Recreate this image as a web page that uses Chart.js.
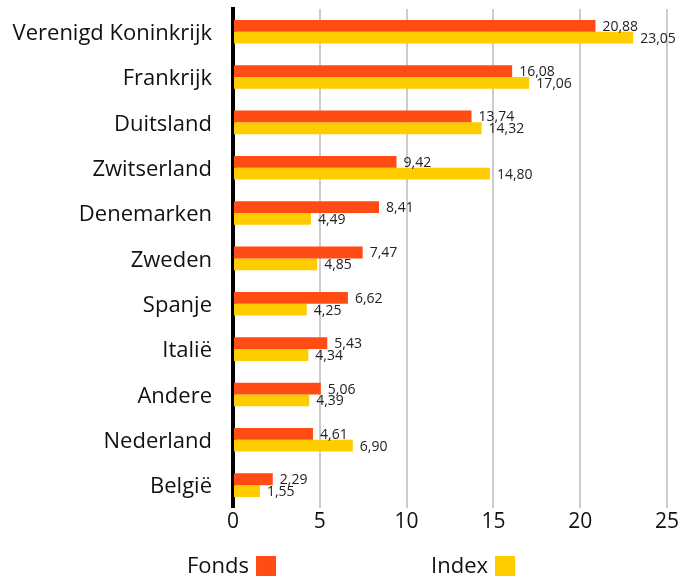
<!DOCTYPE html>
<html>
<head>
<meta charset="UTF-8">
<title>Landen</title>
<script src="https://cdn.jsdelivr.net/npm/chart.js"></script>
<style type="text/css">
	html, body { margin: 0; padding: 0; background: #fff; }
	#chartArea { width: 694px; height: 583px; }
</style>
</head>
<body>
<div id="chartArea">
	<canvas id="myChart"></canvas>
</div>
<script>
var landen = ['Verenigd Koninkrijk', 'Frankrijk', 'Duitsland', 'Zwitserland', 'Denemarken', 'Zweden', 'Spanje', 'Italië', 'Andere', 'Nederland', 'België'];
var fonds = [20.88, 16.08, 13.74, 9.42, 8.41, 7.47, 6.62, 5.43, 5.06, 4.61, 2.29];
var index = [23.05, 17.06, 14.32, 14.80, 4.49, 4.85, 4.25, 4.34, 4.39, 6.90, 1.55];
var xTicks = [0, 5, 10, 15, 20, 25];

var fontFamily = '"Open Sans", sans-serif';

// waarden naast de balken
var valueLabels = {
	id: 'valueLabels',
	afterDatasetsDraw: function(chart) {
		var ctx = chart.ctx;
		ctx.save();
		ctx.font = '14px ' + fontFamily;
		ctx.fillStyle = '#222';
		ctx.textBaseline = 'middle';
		ctx.textAlign = 'left';
		chart.data.datasets.forEach(function(ds, i) {
			var meta = chart.getDatasetMeta(i);
			meta.data.forEach(function(bar, j) {
				var txt = ds.data[j].toFixed(2).replace('.', ',');
				ctx.fillText(txt, bar.x + 7, bar.y + 1);
			});
		});
		ctx.restore();
	}
};

// legenda onderaan: tekst links, blokje rechts
var bottomLegend = {
	id: 'bottomLegend',
	afterDraw: function(chart) {
		var ctx = chart.ctx;
		var box = 20, gap = 7, spacing = 155;
		ctx.save();
		ctx.font = '22px ' + fontFamily;
		var items = chart.data.datasets.map(function(ds) {
			var w = ctx.measureText(ds.label).width;
			return { label: ds.label, color: ds.backgroundColor, tw: w, w: w + gap + box };
		});
		var total = items.reduce(function(s, it) { return s + it.w; }, 0) + spacing * (items.length - 1);
		var x = chart.width / 2 + 4 - total / 2;
		var cy = chart.height - 17;
		ctx.textBaseline = 'middle';
		ctx.textAlign = 'left';
		items.forEach(function(it) {
			ctx.fillStyle = '#111';
			ctx.fillText(it.label, x, cy + 1);
			ctx.fillStyle = it.color;
			ctx.fillRect(x + it.tw + gap, cy - box / 2, box, box);
			x += it.w + spacing;
		});
		ctx.restore();
	}
};

var ctx = document.getElementById('myChart').getContext('2d');
var myChart = new Chart(ctx, {
	type: 'bar',
	data: {
		labels: landen,
		datasets: [{
			label: 'Fonds',
			data: fonds,
			backgroundColor: '#FF4B14'
		}, {
			label: 'Index',
			data: index,
			backgroundColor: '#FFCC00'
		}]
	},
	options: {
		indexAxis: 'y',
		responsive: true,
		maintainAspectRatio: false,
		animation: false,
		layout: { padding: { top: 9, right: 27, left: 0, bottom: 46 } },
		datasets: {
			bar: { categoryPercentage: 0.52, barPercentage: 1.0 }
		},
		scales: {
			x: {
				min: 0,
				max: 25,
				afterBuildTicks: function(axis) {
					axis.ticks = xTicks.map(function(v) { return { value: v }; });
				},
				grid: { color: '#cccccc', lineWidth: 2, drawTicks: false },
				border: { display: false },
				ticks: {
					color: '#111',
					font: { family: fontFamily, size: 21 },
					padding: 2
				}
			},
			y: {
				afterFit: function(scale) {
					scale.width = 233;
					scale.paddingTop = 0;
					scale.paddingBottom = 0;
				},
				grid: { display: false, drawTicks: false },
				border: { color: '#000', width: 4 },
				ticks: {
					color: '#111',
					font: { family: fontFamily, size: 22 },
					padding: 21,
					labelOffset: 2
				}
			}
		},
		plugins: {
			legend: { display: false },
			tooltip: { enabled: false }
		}
	},
	plugins: [valueLabels, bottomLegend]
});
</script>
</body>
</html>
